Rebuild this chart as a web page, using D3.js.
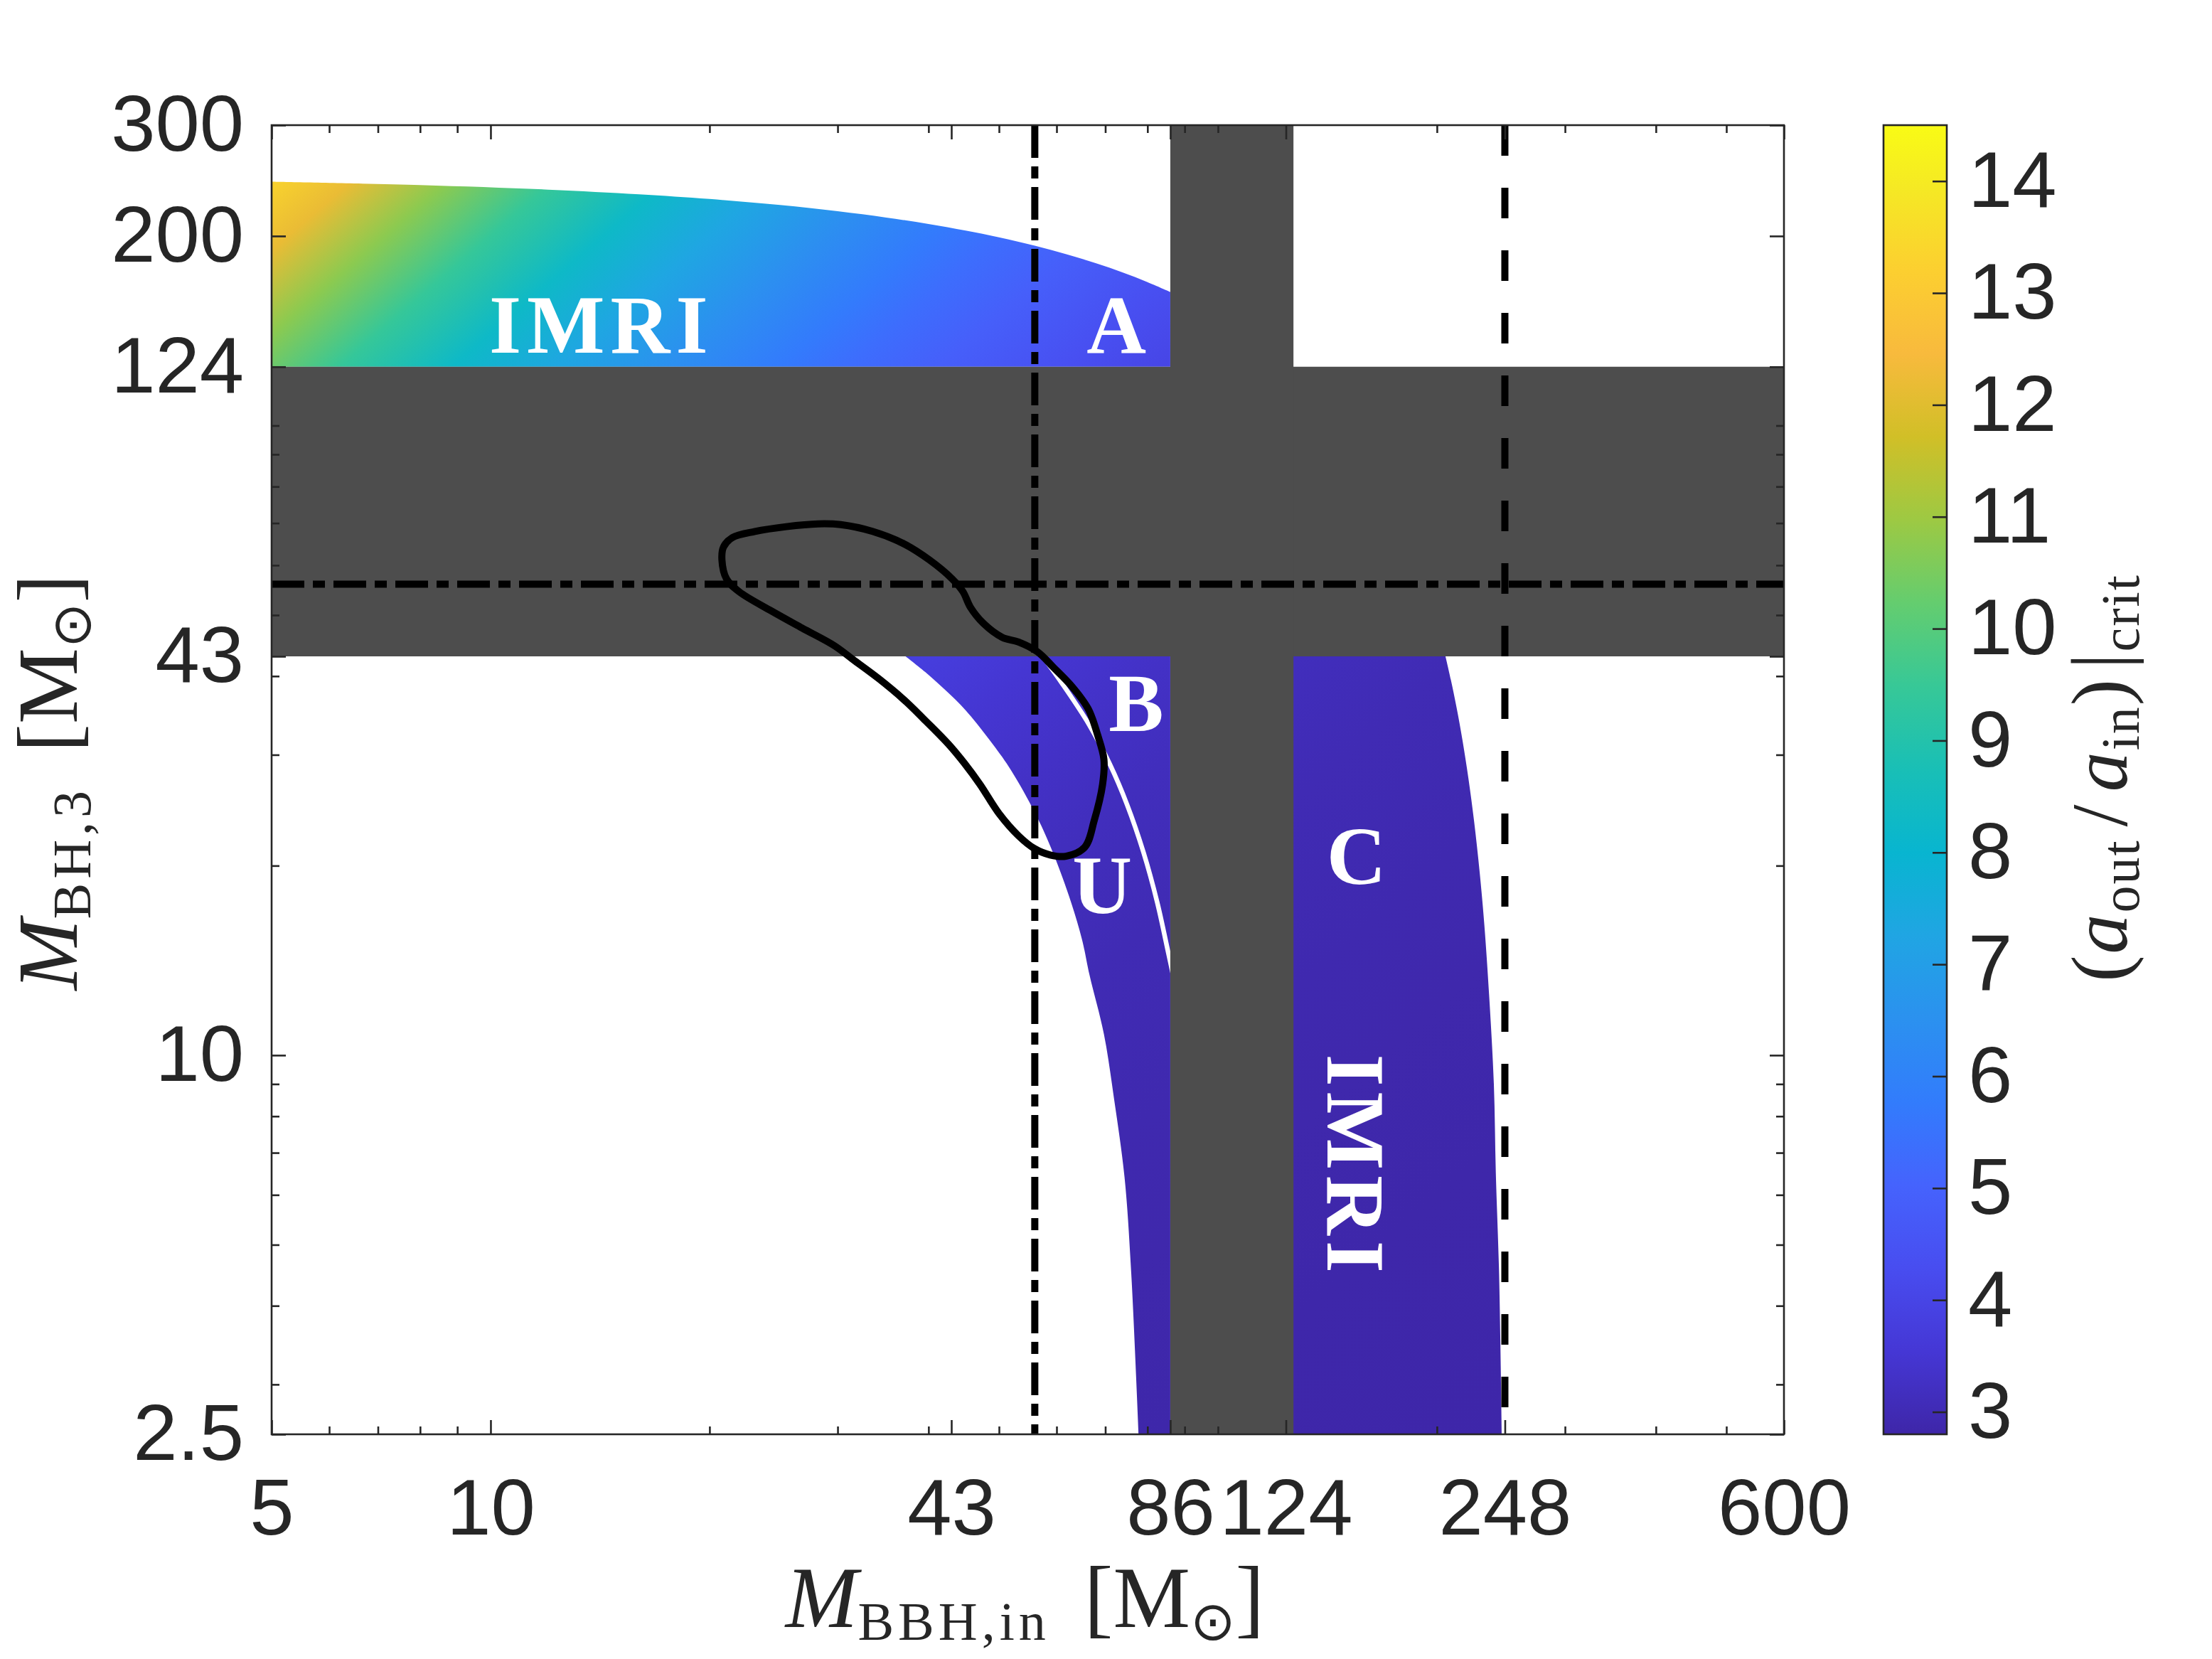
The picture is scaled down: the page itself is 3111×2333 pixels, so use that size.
<!DOCTYPE html>
<html>
<head>
<meta charset="utf-8">
<script src="https://cdn.jsdelivr.net/npm/d3@7"></script>
<style>
  body { margin: 0; background: #fff; }
</style>
</head>
<body>
<svg id="chart" width="3111" height="2333"></svg>
<script>
// ---- values ----
var xTicks = [5, 10, 43, 86, 124, 248, 600];
var yTicks = [2.5, 10, 43, 124, 200, 300];
var xMinor = [6, 7, 8, 9, 20, 30, 40, 50, 60, 70, 80, 90, 100, 200, 300, 400, 500];
var yMinor = [3, 4, 5, 6, 7, 8, 9, 20, 30, 40, 50, 60, 70, 80, 90, 100];
var cTicks = [3, 4, 5, 6, 7, 8, 9, 10, 11, 12, 13, 14];
var cRange = [2.8, 14.5];

var grayRows = [43, 124];   // excluded M_BH,3 band
var grayCols = [86, 127];   // excluded M_BBH,in band
var dashDotH = 56;
var dashDotV = 56;
var dashedV = 248;

// upper edge of the top (IMRI / A) region, [M_BBH,in, M_BH,3]
var imriTop = [[5,244],[8,241],[12,237],[16,233],[20,229],[25,224],[30,219],[35,214],
  [40,209],[45,204],[50,199],[56,193],[62,187],[68,181],[74,175],[80,169],[86,163]];
// left edge of the U/B region
var uLeft = [[37.2,43],[40,40.2],[42.2,38],[45,35.3],[49,31.2],[52,28.3],[56,24.3],[59,21.3],
  [62.4,17.9],[65,15.3],[66.6,13.4],[69.7,10.8],[72,8.5],[74.4,6.4],[76,4.5],[77.8,2.5]];
// thin white split between U and B
var buGap = [[57,43.5],[61,39],[66.5,33.5],[71,29],[75,25],[79,21],[82.5,17.5],[85.5,14.5],[87.5,12.8]];
// right edge of the C / IMRI region
var cRight = [[205.5,43],[209,39.5],[213,35.5],[217,31.5],[221,27.5],[225,23.5],[229,19.5],
  [232.4,16.1],[236,12.4],[239.5,9],[241,6.5],[243.5,4.5],[245.6,2.5]];
// black closed contour
var contour = [[20.8,61.2],[21.1,57.1],[21.95,54.5],[24.3,50.8],[26.8,47.7],[29.7,44.7],[31.5,42.5],
  [34.2,39.6],[37.0,36.7],[39.3,34.3],[42.6,31.2],[44.8,29.1],[47.1,26.9],[50.0,24.2],[53.2,22.3],
  [55.9,21.3],[58.8,20.8],[61.8,20.7],[65.6,21.4],[67.6,23.6],[69.4,26.9],[69.7,29.5],[68.3,32.3],
  [66.3,35.5],[63.0,38.5],[59.4,41.3],[56.5,43.7],[53.2,45.3],[50.5,46.1],[47.6,48.5],[45.7,51.4],
  [44.6,54.5],[43.1,57.1],[40.1,61.2],[37.0,64.9],[33.5,67.9],[30.3,69.6],[28.2,69.8],[25.5,69.1],
  [23.1,67.9],[21.5,66.4],[20.9,64.1]];

// colour value (a_out/a_in)|crit read at mass ratios q = M_BH,3 / M_BBH,in
var qSamples = [0.004, 0.01, 0.03, 0.06, 0.1, 0.2, 0.35, 0.5, 0.75, 1, 1.5, 2, 3, 4, 5, 7, 10, 14, 20, 28, 38, 50, 60];
var ratioSamples = [2.80, 2.81, 2.83, 2.87, 2.91, 3.00, 3.14, 3.30, 3.50, 3.70, 4.04, 4.35, 4.88, 5.33, 5.74,
  6.43, 7.30, 8.27, 9.43, 10.75, 12.2, 13.36, 14.5];

// region labels, anchored in data coordinates
var regionLabels = [
  {t: "IMRI", x: 14.2, y: 130.7, rot: 0},
  {t: "A", x: 72.5, y: 130.7, rot: 0},
  {t: "B", x: 77.2, y: 32.7, rot: 0},
  {t: "U", x: 69.3, y: 16.8, rot: 0},
  {t: "C", x: 155, y: 18.7, rot: 0},
  {t: "IMRI", x: 141.4, y: 6.66, rot: 90}
];

// MATLAB parula anchors [index of 64, r, g, b]
var parula = [[0,0.2422,0.1504,0.6603],[4,0.2706,0.2147,0.8364],[8,0.2813,0.3006,0.9414],
  [12,0.2699,0.3892,0.9906],[16,0.1963,0.4847,0.9892],[20,0.1687,0.5703,0.9359],
  [24,0.1248,0.6459,0.8883],[28,0.0297,0.7082,0.8163],[32,0.0964,0.7500,0.7120],
  [36,0.2161,0.7843,0.5923],[40,0.3909,0.8029,0.4354],[44,0.6174,0.7876,0.2612],
  [48,0.8203,0.7498,0.1535],[52,0.9728,0.7298,0.2394],[56,0.9892,0.8136,0.1885],
  [60,0.9597,0.9135,0.1423],[63,0.9769,0.9839,0.0805]];

// ---- layout ----
var plotL = 382, plotR = 2509, plotT = 176, plotB = 2017;
var cbL = 2649, cbR = 2738;
var axisColor = "#262626";
var grayFill = "#4d4d4d";
var sansFont = "'Liberation Sans', Arial, Helvetica, sans-serif";
var serifFont = "'Liberation Serif', 'Times New Roman', serif";

var svg = d3.select("#chart");
var x = d3.scaleLog().domain([5, 600]).range([plotL, plotR]);
var y = d3.scaleLog().domain([2.5, 300]).range([plotB, plotT]);
var c = d3.scaleLinear().domain(cRange).range([plotB, plotT]);

var parulaScale = d3.scaleLinear()
  .domain(parula.map(function(d) { return d[0] / 63; }))
  .range(parula.map(function(d) { return d3.rgb(d[1] * 255, d[2] * 255, d[3] * 255).toString(); }))
  .interpolate(d3.interpolateRgb)
  .clamp(true);
function colorOf(v) {
  return parulaScale((v - cRange[0]) / (cRange[1] - cRange[0]));
}

var defs = svg.append("defs");
defs.append("clipPath").attr("id", "plotClip")
  .append("rect")
  .attr("x", plotL).attr("y", plotT)
  .attr("width", plotR - plotL).attr("height", plotB - plotT);

// log q is linear in pixel space on log-log axes, so the colour field is a linear gradient
var kx = x(50) - x(5);
var ky = y(30) - y(300);
var gx = -1 / kx, gy = -1 / ky, g2 = gx * gx + gy * gy;
var X0 = x(5), Y0 = y(300), L0 = Math.log10(300 / 5);
function pointFor(L) {
  var s = (L - L0) / g2;
  return [X0 + s * gx, Y0 + s * gy];
}
var Lhi = Math.log10(qSamples[qSamples.length - 1]);
var Llo = Math.log10(qSamples[0]);
var p1 = pointFor(Lhi), p2 = pointFor(Llo);

var field = defs.append("linearGradient")
  .attr("id", "field")
  .attr("gradientUnits", "userSpaceOnUse")
  .attr("x1", p1[0]).attr("y1", p1[1])
  .attr("x2", p2[0]).attr("y2", p2[1]);
d3.range(qSamples.length).reverse().forEach(function(i) {
  var L = Math.log10(qSamples[i]);
  field.append("stop")
    .attr("offset", (Lhi - L) / (Lhi - Llo))
    .attr("stop-color", colorOf(ratioSamples[i]));
});

var cbGrad = defs.append("linearGradient")
  .attr("id", "cbar")
  .attr("x1", 0).attr("y1", 1).attr("x2", 0).attr("y2", 0);
parula.forEach(function(d) {
  cbGrad.append("stop")
    .attr("offset", d[0] / 63)
    .attr("stop-color", d3.rgb(d[1] * 255, d[2] * 255, d[3] * 255).toString());
});

// ---- plot body ----
var plot = svg.append("g").attr("clip-path", "url(#plotClip)");

var smooth = d3.line()
  .x(function(d) { return x(d[0]); })
  .y(function(d) { return y(d[1]); })
  .curve(d3.curveCatmullRom);

function regionPath(edge, corners) {
  var s = smooth(edge);
  corners.forEach(function(p) { s += "L" + x(p[0]) + "," + y(p[1]); });
  return s + "Z";
}

plot.append("path")
  .attr("d", regionPath(imriTop, [[86, grayRows[1]], [5, grayRows[1]]]))
  .attr("fill", "url(#field)");
plot.append("path")
  .attr("d", regionPath(uLeft, [[grayCols[0], 2.5], [grayCols[0], grayRows[0]]]))
  .attr("fill", "url(#field)");
plot.append("path")
  .attr("d", regionPath(cRight, [[124, 2.5], [124, grayRows[0]]]))
  .attr("fill", "url(#field)");

plot.append("path")
  .attr("d", smooth(buGap))
  .attr("fill", "none")
  .attr("stroke", "#fff")
  .attr("stroke-width", 6.5);

// excluded bands
plot.append("rect")
  .attr("x", plotL).attr("width", plotR - plotL)
  .attr("y", y(grayRows[1])).attr("height", y(grayRows[0]) - y(grayRows[1]))
  .attr("fill", grayFill);
plot.append("rect")
  .attr("x", x(grayCols[0])).attr("width", x(grayCols[1]) - x(grayCols[0]))
  .attr("y", plotT).attr("height", plotB - plotT)
  .attr("fill", grayFill);

// reference lines
plot.append("line")
  .attr("x1", x(5)).attr("x2", x(600))
  .attr("y1", y(dashDotH)).attr("y2", y(dashDotH))
  .attr("stroke", "#000").attr("stroke-width", 10)
  .attr("stroke-dasharray", "46,12,17,12");
plot.append("line")
  .attr("x1", x(dashDotV)).attr("x2", x(dashDotV))
  .attr("y1", y(300)).attr("y2", y(2.5))
  .attr("stroke", "#000").attr("stroke-width", 10)
  .attr("stroke-dasharray", "46,12,17,12");
plot.append("line")
  .attr("x1", x(dashedV)).attr("x2", x(dashedV))
  .attr("y1", y(300)).attr("y2", y(2.5))
  .attr("stroke", "#000").attr("stroke-width", 10)
  .attr("stroke-dasharray", "43,45");

plot.append("path")
  .attr("d", d3.line()
    .x(function(d) { return x(d[0]); })
    .y(function(d) { return y(d[1]); })
    .curve(d3.curveCatmullRomClosed)(contour))
  .attr("fill", "none")
  .attr("stroke", "#000")
  .attr("stroke-width", 10)
  .attr("stroke-linejoin", "round");

// region labels
regionLabels.forEach(function(d) {
  plot.append("text")
    .attr("transform", "translate(" + x(d.x) + "," + y(d.y) + ")" + (d.rot ? " rotate(" + d.rot + ")" : ""))
    .attr("text-anchor", "middle")
    .attr("font-family", serifFont)
    .attr("font-weight", "bold")
    .attr("font-size", 116)
    .attr("letter-spacing", d.t.length > 1 ? 8 : 0)
    .attr("fill", "#fff")
    .text(d.t);
});

// ---- axes ----
function styleAxis(g) {
  g.select(".domain").remove();
  g.selectAll("line").attr("stroke", axisColor).attr("stroke-width", 2.6);
  g.selectAll("text")
    .attr("font-family", sansFont)
    .attr("font-size", 112)
    .attr("fill", axisColor);
}
var noLabel = function() { return ""; };

svg.append("g").attr("transform", "translate(0," + plotB + ")")
  .call(d3.axisBottom(x).tickValues(xTicks).tickSize(-20).tickPadding(61).tickFormat(d3.format("")))
  .call(styleAxis);
svg.append("g").attr("transform", "translate(0," + plotB + ")")
  .call(d3.axisBottom(x).tickValues(xMinor).tickSize(-11).tickFormat(noLabel))
  .call(styleAxis);
svg.append("g").attr("transform", "translate(0," + plotT + ")")
  .call(d3.axisTop(x).tickValues(xTicks).tickSize(-20).tickFormat(noLabel))
  .call(styleAxis);
svg.append("g").attr("transform", "translate(0," + plotT + ")")
  .call(d3.axisTop(x).tickValues(xMinor).tickSize(-11).tickFormat(noLabel))
  .call(styleAxis);

svg.append("g").attr("transform", "translate(" + plotL + ",0)")
  .call(d3.axisLeft(y).tickValues(yTicks).tickSize(-20).tickPadding(39).tickFormat(d3.format("")))
  .call(styleAxis);
svg.append("g").attr("transform", "translate(" + plotL + ",0)")
  .call(d3.axisLeft(y).tickValues(yMinor).tickSize(-11).tickFormat(noLabel))
  .call(styleAxis);
svg.append("g").attr("transform", "translate(" + plotR + ",0)")
  .call(d3.axisRight(y).tickValues(yTicks).tickSize(-20).tickFormat(noLabel))
  .call(styleAxis);
svg.append("g").attr("transform", "translate(" + plotR + ",0)")
  .call(d3.axisRight(y).tickValues(yMinor).tickSize(-11).tickFormat(noLabel))
  .call(styleAxis);

svg.append("rect")
  .attr("x", plotL).attr("y", plotT)
  .attr("width", plotR - plotL).attr("height", plotB - plotT)
  .attr("fill", "none")
  .attr("stroke", axisColor)
  .attr("stroke-width", 2.6);

// ---- colour bar ----
svg.append("rect")
  .attr("x", cbL).attr("y", plotT)
  .attr("width", cbR - cbL).attr("height", plotB - plotT)
  .attr("fill", "url(#cbar)")
  .attr("stroke", axisColor)
  .attr("stroke-width", 2.6);
svg.append("g").attr("transform", "translate(" + cbR + ",0)")
  .call(d3.axisRight(c).tickValues(cTicks).tickSize(-20).tickPadding(30).tickFormat(d3.format("d")))
  .call(styleAxis);

// ---- axis titles ----
function massTitle(sel, sub, subShift) {
  sel.append("tspan").attr("font-style", "italic").text("M");
  sel.append("tspan").attr("font-size", 76).attr("dy", subShift).attr("letter-spacing", 6).text(sub);
  sel.append("tspan").attr("dy", -subShift).attr("dx", 48).text("[M");
  sel.append("tspan").attr("dy", subShift).attr("font-size", 76)
    .attr("font-family", "'DejaVu Sans', sans-serif").text("\u2299");
  sel.append("tspan").attr("dy", -subShift).text("]");
}

var xTitle = svg.append("text")
  .attr("x", (plotL + plotR) / 2 - 4).attr("y", 2288)
  .attr("text-anchor", "middle")
  .attr("font-family", serifFont)
  .attr("font-size", 122)
  .attr("fill", axisColor);
massTitle(xTitle, "BBH,in", 18);

var yTitle = svg.append("text")
  .attr("transform", "translate(108,1100) rotate(-90)")
  .attr("text-anchor", "middle")
  .attr("font-family", serifFont)
  .attr("font-size", 120)
  .attr("fill", axisColor);
massTitle(yTitle, "BH,3", 19);

var cTitle = svg.append("text")
  .attr("transform", "translate(2991,1094) rotate(-90)")
  .attr("text-anchor", "middle")
  .attr("font-family", serifFont)
  .attr("font-size", 112)
  .attr("letter-spacing", 2)
  .attr("fill", axisColor);
cTitle.append("tspan").text("(");
cTitle.append("tspan").attr("font-style", "italic").text("a");
cTitle.append("tspan").attr("font-size", 76).attr("dy", 17).text("out");
cTitle.append("tspan").attr("dy", -17).attr("dx", 18).text("/");
cTitle.append("tspan").attr("dx", 16).attr("font-style", "italic").text("a");
cTitle.append("tspan").attr("font-size", 76).attr("dy", 17).text("in");
cTitle.append("tspan").attr("dy", -17).text(")");
cTitle.append("tspan").attr("dx", 12).text("|");
cTitle.append("tspan").attr("font-size", 76).attr("dy", 17).text("crit");
</script>
</body>
</html>
